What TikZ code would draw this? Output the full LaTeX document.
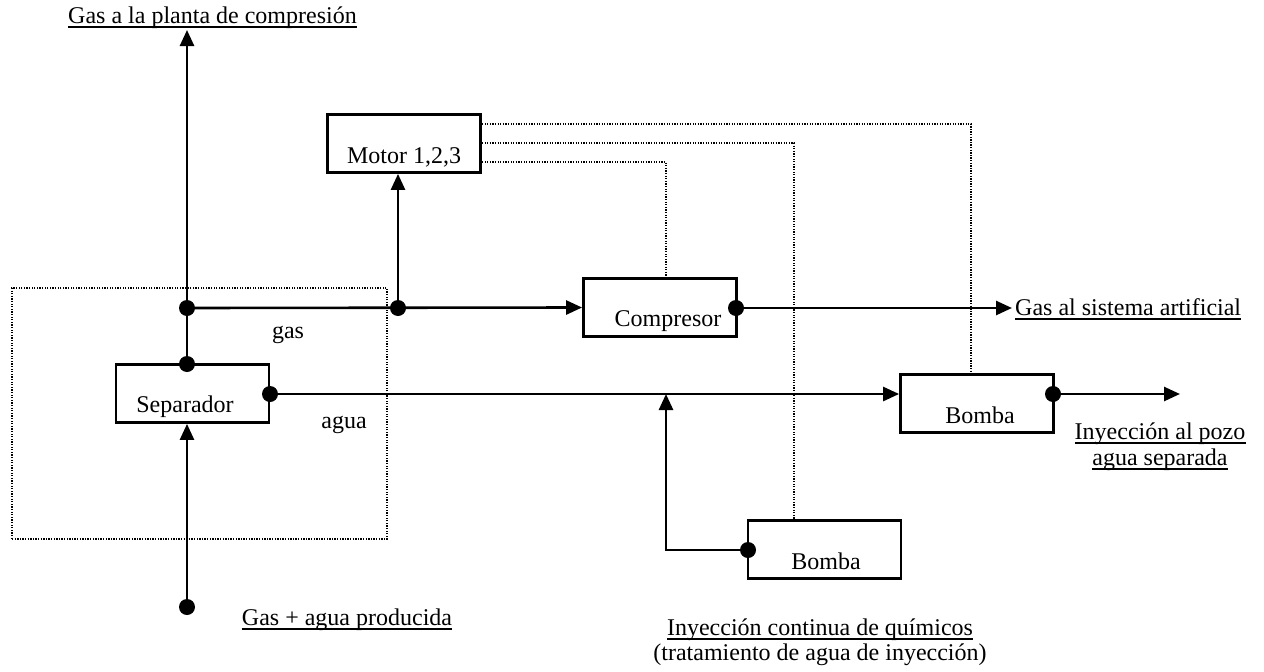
\documentclass[tikz,border=0pt]{standalone}
\usepackage{fontspec}
\setmainfont{Liberation Serif}
\usetikzlibrary{arrows.meta,calc}
\begin{document}
\begin{tikzpicture}[x=1pt,y=-1pt,
  box/.style={draw,line width=2.8pt,inner sep=0pt,minimum width=153pt,minimum height=58pt},
  lbl/.style={inner sep=0pt,anchor=base,font=\fontsize{24}{28}\selectfont},
  flow/.style={line width=2.6pt,-{Triangle[length=16pt,width=14pt]}},
  sig/.style={line width=1.6pt,dash pattern=on 1.3pt off 1.3pt},
  dot/.style={circle,fill,inner sep=0pt,minimum size=16pt},
  uline/.style={line width=1.3pt}]
\useasboundingbox (0,0) rectangle (1264,672);
% frame
\node[draw,sig,minimum width=375pt,minimum height=251pt,inner sep=0pt] (frame) at (199.5,413.5) {};
% boxes
\node[box] (motor) at (404,143.5) {};
\node[lbl] (tmotor) at (404,163) {Motor 1,2,3};
\node[box] (comp) at (660,307.5) {};
\node[lbl] (tcomp) at (668,326) {Compresor};
\node[box] (sep) at (192.5,393.5) {};
\node[lbl] (tsep) at (185,412) {Separador};
\node[box] (bomba1) at (977,403.5) {};
\node[lbl] (tb1) at (980,423) {Bomba};
\node[box] (bomba2) at (824.5,549.5) {};
\node[lbl] (tb2) at (826,569) {Bomba};
% dots
\node[dot] (d1) at (187,308) {};
\node[dot] (d2) at (187,364) {};
\node[dot] (d3) at (270,394) {};
\node[dot] (d4) at (187,607) {};
\node[dot] (d5) at (398,308) {};
\node[dot] (d6) at (736,308) {};
\node[dot] (d7) at (1053,394) {};
\node[dot] (d8) at (748,550) {};
% free ends
\coordinate (gtop) at (187,30);
\coordinate (gart) at (1012,308);
\coordinate (iny) at (1180,394);
\coordinate (cj) at (666,550);
\coordinate (cjt) at (666,394);
\coordinate (m1) at (971,124);
\coordinate (m2) at (794,143);
\coordinate (m3) at (666,162);
% flows
\draw[flow] (d2.center) -- (gtop);
\draw[flow] (d1.center) -- (comp.west);
\draw[flow] (d5.center) -- (d5 |- motor.south);
\draw[flow] (d6.center) -- (gart);
\draw[flow] (d3.center) -- (d3 -| bomba1.west);
\draw[flow] (d8.center) -- (cj) -- (cjt);
\draw[flow] (d7.center) -- (iny);
\draw[flow] (d4.center) -- (d4 |- sep.south);
% signal lines
\draw[sig] (motor.east |- m1) -- (m1) -- (m1 |- bomba1.north);
\draw[sig] (motor.east |- m2) -- (m2) -- (m2 |- bomba2.north);
\draw[sig] (motor.east |- m3) -- (m3) -- (m3 |- comp.north);
% labels
\node[lbl] (title) at (212.5,23) {Gas a la planta de compresión};
\node[lbl,anchor=base west] (tart) at (1015,315) {Gas al sistema artificial};
\node[lbl] (tgas) at (288,338) {gas};
\node[lbl] (tagua) at (344,428) {agua};
\node[lbl] (tsrc) at (347,625) {Gas + agua producida};
\node[lbl] (tiny1) at (1160,439) {Inyección al pozo};
\node[lbl] (tiny2) at (1160,465) {agua separada};
\node[lbl] (tchem1) at (820,635) {Inyección continua de químicos};
\node[lbl] (tchem2) at (820,660) {(tratamiento de agua de inyección)};
% underlines
\foreach \t in {title,tart,tsrc,tiny1,tiny2,tchem1}
  \draw[uline] ([yshift=-4pt]\t.base west) -- ([yshift=-4pt]\t.base east);
\end{tikzpicture}
\end{document}
